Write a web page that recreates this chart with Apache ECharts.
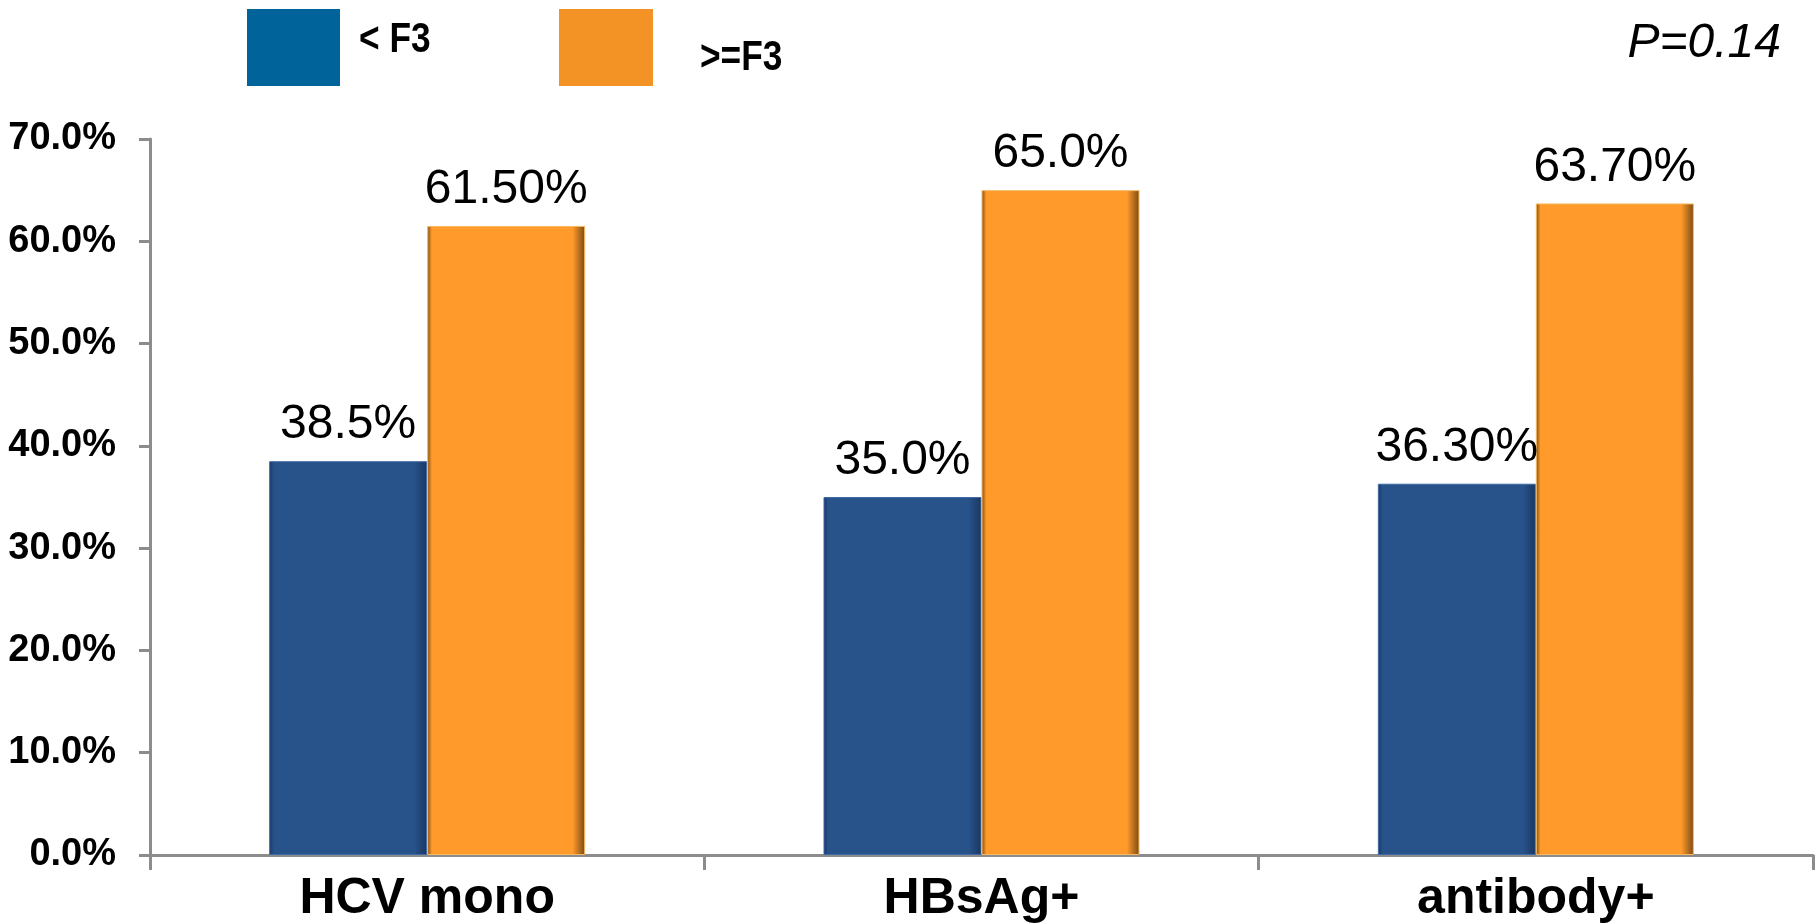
<!DOCTYPE html>
<html>
<head>
<meta charset="utf-8">
<script src="https://cdn.jsdelivr.net/npm/echarts@6/dist/echarts.min.js"></script>
<style>html,body{margin:0;padding:0;background:#fff}#c{width:1816px;height:924px}</style>
</head>
<body>
<div id="c"></div>
<script>
const categories = ['HCV mono', 'HBsAg+', 'antibody+'];
const seriesNames = ['< F3', '>=F3'];
const lowValues = [38.5, 35.0, 36.3];
const highValues = [61.5, 65.0, 63.7];
const lowLabels = ['38.5%', '35.0%', '36.30%'];
const highLabels = ['61.50%', '65.0%', '63.70%'];
const yTicks = [0, 10, 20, 30, 40, 50, 60, 70];
const pValueText = 'P=0.14';

const FONT = '"Liberation Sans", Arial, sans-serif';

function barColor(base, edge) {
  return new echarts.graphic.LinearGradient(0, 0, 1, 0, [
    {offset: 0, color: edge},
    {offset: 0.03, color: base},
    {offset: 0.92, color: base},
    {offset: 1, color: edge}
  ]);
}

const chart = echarts.init(document.getElementById('c'), null, {renderer: 'canvas'});
chart.setOption({
  animation: false,
  backgroundColor: '#ffffff',
  grid: {left: 150, right: 3, top: 139, bottom: 69, containLabel: false},
  legend: [
    {
      data: [seriesNames[0]], left: 247, top: 9, padding: 0, itemWidth: 93, itemHeight: 77, icon: 'rect',
      itemStyle: {color: '#00639A', borderWidth: 0}, formatter: () => ''
    },
    {
      data: [seriesNames[1]], left: 559, top: 9, padding: 0, itemWidth: 94, itemHeight: 77, icon: 'rect',
      itemStyle: {color: '#F39325', borderWidth: 0}, formatter: () => ''
    }
  ],
  graphic: [
    {type: 'text', x: 359, y: 19, scaleX: 0.84,
      style: {text: seriesNames[0], font: 'bold 42px ' + FONT, fill: '#000'}},
    {type: 'text', x: 700, y: 37, scaleX: 0.84,
      style: {text: seriesNames[1], font: 'bold 42px ' + FONT, fill: '#000'}},
    {type: 'text', right: 35, top: 20,
      style: {text: pValueText, font: 'italic 48px ' + FONT, fill: '#000'}}
  ],
  xAxis: {
    type: 'category', data: categories,
    axisLine: {lineStyle: {color: '#8C8C8C', width: 3}},
    axisTick: {show: true, length: 15, lineStyle: {color: '#8C8C8C', width: 3}},
    axisLabel: {fontFamily: FONT, fontWeight: 'bold', fontSize: 50, color: '#000', margin: 19}
  },
  yAxis: {
    type: 'value', min: yTicks[0], max: yTicks[yTicks.length - 1], interval: yTicks[1] - yTicks[0],
    axisLine: {show: true, lineStyle: {color: '#8C8C8C', width: 3}},
    axisTick: {show: true, length: 11, lineStyle: {color: '#8C8C8C', width: 3}},
    splitLine: {show: false},
    axisLabel: {fontFamily: FONT, fontWeight: 'bold', fontSize: 38, color: '#000', margin: 34,
      formatter: v => v.toFixed(1) + '%'}
  },
  series: [
    {
      name: seriesNames[0], type: 'bar', barWidth: 158, barGap: '0%',
      data: lowValues,
      itemStyle: {color: barColor('#28528A', '#1A3660'), borderColor: '#3E6BA6', borderWidth: 1},
      label: {show: true, position: 'top', distance: 12, fontFamily: FONT, fontSize: 48, color: '#000',
        formatter: p => lowLabels[p.dataIndex]}
    },
    {
      name: seriesNames[1], type: 'bar', barWidth: 158, barGap: '0%',
      data: highValues,
      itemStyle: {color: barColor('#FF9A2B', '#7A4A12'), borderColor: '#F5B860', borderWidth: 1},
      label: {show: true, position: 'top', distance: 12, fontFamily: FONT, fontSize: 48, color: '#000',
        formatter: p => highLabels[p.dataIndex]}
    }
  ]
});
</script>
</body>
</html>
